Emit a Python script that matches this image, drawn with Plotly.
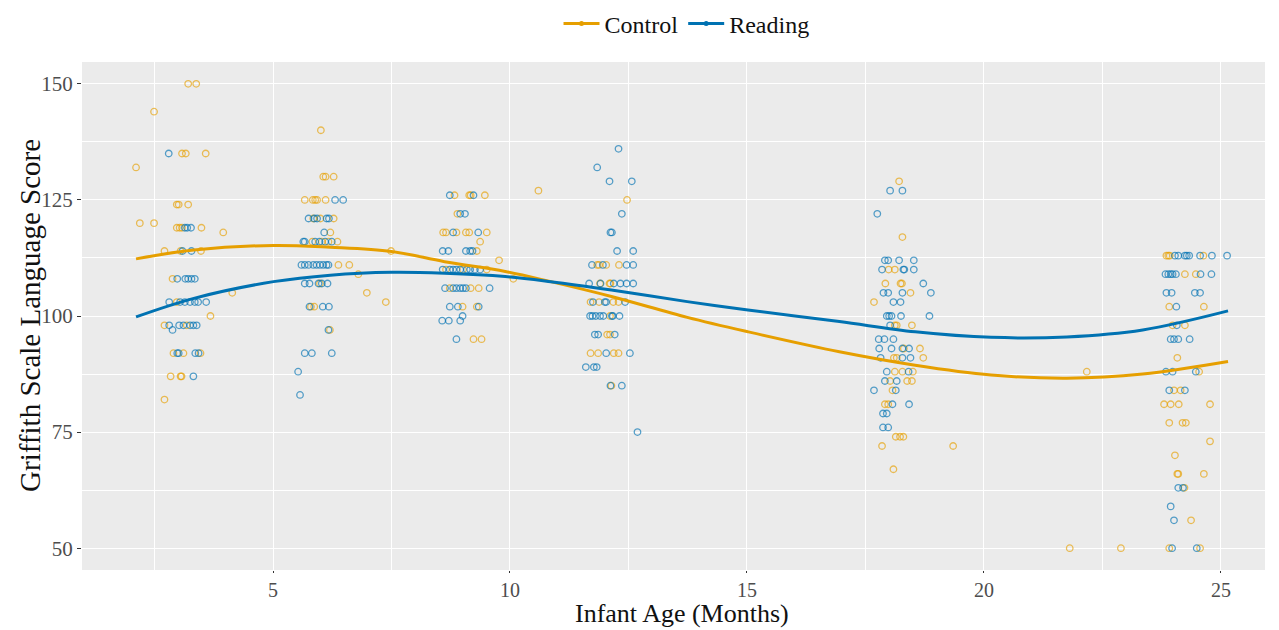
import plotly.graph_objects as go

# ---------------- data ----------------
control_age_3 = [2.11, 2.49, 3.21, 3.38, 3.08, 3.16, 3.58, 2.97, 3.01, 3.21, 2.19, 2.49, 2.97, 3.03, 3.08, 3.49, 3.95,
                 2.71, 3.05, 3.48, 2.88, 4.14, 2.97, 3.68, 2.71, 3.18, 2.90, 3.11, 3.47, 2.84, 3.05, 3.07, 2.71]
control_score_3 = [132, 144, 150, 150, 135, 135, 135, 124, 124, 124, 120, 120, 119, 119, 119, 119, 118,
                   114, 114, 114, 108, 105, 103, 100, 98, 98, 92, 92, 92, 87, 87, 87, 82]
reading_age_3 = [2.80, 3.14, 3.19, 3.27, 3.09, 3.28, 2.98, 3.15, 3.21, 3.28, 3.35, 2.81, 3.04, 3.14, 3.25, 3.35,
                 3.42, 3.59, 2.81, 3.02, 3.11, 3.25, 3.32, 3.39, 2.88, 2.98, 3.01, 3.36, 3.43, 3.32]
reading_score_3 = [135, 119, 119, 119, 114, 114, 108, 108, 108, 108, 108, 103, 103, 103, 103, 103,
                   103, 103, 98, 98, 98, 98, 98, 98, 97, 92, 92, 92, 92, 87]

control_age_6 = [6.01, 6.06, 6.11, 6.28, 5.67, 5.84, 5.89, 5.93, 6.11, 5.85, 6.00, 6.28, 6.21, 5.83, 6.03, 6.17,
                 6.36, 6.38, 6.61, 6.80, 5.99, 6.98, 7.38, 7.49, 5.80, 5.87, 6.20]
control_score_6 = [140, 130, 130, 130, 125, 125, 125, 125, 125, 121, 121, 121, 118, 116, 116, 116,
                   116, 111, 111, 109, 107, 105, 103, 114, 102, 102, 97]
reading_age_6 = [6.31, 6.48, 5.75, 5.87, 5.93, 6.13, 6.18, 6.08, 5.64, 5.67, 5.89, 5.98, 6.10, 6.24, 5.60, 5.67,
                 5.75, 5.85, 5.92, 5.99, 6.06, 6.13, 6.17, 5.67, 5.77, 5.96, 6.03, 6.15, 5.77, 6.05, 6.18, 6.17,
                 5.67, 5.82, 6.24, 5.53, 5.57]
reading_score_6 = [125, 125, 121, 121, 121, 121, 121, 118, 116, 116, 116, 116, 116, 116, 111, 111,
                   111, 111, 111, 111, 111, 111, 111, 107, 107, 107, 107, 107, 102, 102, 102, 97,
                   92, 92, 92, 88, 83]

control_age_9 = [10.60, 8.83, 9.14, 9.17, 9.47, 8.89, 8.59, 8.65, 8.87, 9.07, 9.14, 9.51, 9.37, 9.30, 9.77,
                 8.65, 9.01, 9.51, 10.07, 8.73, 9.17, 9.34, 9.00, 9.30, 9.23, 9.40]
control_score_9 = [127, 126, 126, 126, 126, 122, 118, 118, 118, 118, 118, 118, 116, 114, 112,
                   110, 110, 110, 108, 106, 106, 106, 102, 102, 95, 95]
reading_age_9 = [8.73, 9.23, 8.95, 9.05, 8.80, 9.33, 8.58, 8.70, 9.07, 9.16, 9.21, 8.58, 8.73, 8.80, 8.87,
                 8.95, 9.09, 9.16, 9.26, 9.37, 8.63, 8.80, 8.87, 8.95, 9.01, 9.07, 9.57, 8.73, 8.90, 9.34,
                 9.00, 8.57, 8.71, 8.95, 8.87]
reading_score_9 = [126, 126, 122, 122, 118, 118, 114, 114, 114, 114, 114, 110, 110, 110, 110,
                   110, 110, 110, 110, 110, 106, 106, 106, 106, 106, 106, 106, 102, 102, 102,
                   100, 99, 99, 99, 95]

control_age_12 = [12.47, 11.84, 11.88, 12.03, 12.30, 11.90, 12.10, 12.12, 11.70, 11.88, 12.18, 12.29, 12.11,
                  12.05, 12.11, 11.70, 11.86, 12.19, 12.29, 12.14]
control_score_12 = [125, 111, 111, 111, 111, 107, 107, 107, 103, 103, 103, 103, 100,
                    96, 96, 92, 92, 92, 92, 85]
reading_age_12 = [12.29, 11.84, 12.10, 12.57, 12.36, 12.12, 12.15, 12.26, 12.60, 11.73, 11.96, 12.46, 12.60,
                  11.67, 11.91, 12.19, 12.33, 12.46, 12.60, 11.75, 12.00, 12.03, 12.43, 11.69, 11.74, 11.81,
                  11.90, 11.97, 12.15, 12.17, 12.31, 11.79, 11.86, 12.21, 12.03, 12.53, 11.60, 11.77, 11.83,
                  12.12, 12.36, 12.69]
reading_score_12 = [136, 132, 129, 129, 122, 118, 118, 114, 114, 111, 111, 111, 111,
                    107, 107, 107, 107, 107, 107, 103, 103, 103, 103, 100, 100, 100,
                    100, 100, 100, 100, 100, 96, 96, 96, 92, 92, 89, 89, 89,
                    85, 85, 75]

control_age_18 = [18.21, 18.28, 17.99, 18.12, 17.92, 18.24, 18.27, 18.45, 17.68, 18.12, 18.16, 18.48, 18.31,
                  18.65, 18.10, 18.16, 18.72, 18.12, 18.28, 18.50, 18.02, 18.38, 18.48, 18.07, 17.91, 17.98,
                  18.14, 18.23, 18.30, 17.85, 19.35, 18.09]
control_score_18 = [129, 117, 110, 110, 107, 107, 107, 105, 103, 98, 98, 98, 93,
                    93, 91, 91, 91, 88, 88, 88, 86, 86, 86, 84, 81, 81,
                    74, 74, 74, 72, 72, 67]
reading_age_18 = [18.02, 18.28, 17.75, 17.91, 17.98, 18.21, 18.52, 17.85, 18.30, 18.32, 18.52, 18.72, 17.88,
                  17.98, 18.28, 18.88, 18.09, 18.24, 17.95, 18.00, 18.05, 18.25, 18.85, 18.02, 17.78, 17.90,
                  18.09, 17.79, 18.05, 18.28, 18.42, 17.82, 18.28, 18.45, 17.95, 18.41, 17.91, 18.16, 17.68,
                  18.14, 18.07, 18.42, 17.87, 17.95, 17.87, 17.98]
reading_score_18 = [127, 127, 122, 112, 112, 112, 112, 110, 110, 110, 110, 107, 105,
                    105, 105, 105, 103, 103, 100, 100, 100, 100, 100, 98, 95, 95,
                    95, 93, 93, 93, 93, 91, 91, 91, 88, 88, 86, 86, 84,
                    84, 81, 81, 79, 79, 76, 76]

control_age_24 = [23.85, 23.89, 23.92, 24.63, 24.24, 24.47, 23.91, 24.64, 23.98, 24.24, 24.08, 24.54, 24.01,
                  24.15, 23.80, 23.94, 24.11, 24.77, 23.91, 24.19, 24.26, 24.77, 24.03, 24.08, 24.10, 24.64,
                  24.23, 24.37, 23.91, 24.56, 22.17, 21.81, 22.89]
control_score_24 = [113, 113, 113, 113, 109, 109, 102, 102, 98, 98, 91, 88, 84,
                    84, 81, 81, 81, 81, 77, 77, 77, 73, 70, 66, 66, 66,
                    63, 56, 50, 50, 88, 50, 50]
reading_age_24 = [24.03, 24.10, 24.24, 24.28, 24.33, 24.56, 24.81, 25.13, 23.83, 23.89, 23.94, 23.98, 24.05,
                  24.57, 24.80, 23.85, 23.96, 24.45, 24.56, 24.06, 24.07, 23.94, 24.01, 24.10, 24.34, 23.84,
                  23.98, 24.47, 23.91, 24.24, 24.10, 24.20, 23.94, 24.01, 23.97, 24.49]
reading_score_24 = [113, 113, 113, 113, 113, 113, 113, 113, 109, 109, 109, 109, 109,
                    109, 109, 105, 105, 105, 105, 102, 98, 95, 95, 95, 95, 88,
                    88, 88, 84, 84, 63, 63, 59, 56, 50, 50]

# smoothed curves
curve_age = [2.11, 3.33, 5.01, 6.21, 7.50, 8.62, 9.90, 10.86, 12.14, 13.74, 15.02, 16.95, 18.55, 20.15, 21.75, 23.35, 25.15]
control_curve = [112.3, 114.2, 115.2, 114.8, 113.9, 111.7, 109.6, 107.4, 104.2, 99.7, 96.6, 92.3, 89.4, 87.3, 86.6, 87.5, 90.2]
reading_curve = [99.8, 103.8, 107.4, 108.8, 109.4, 109.2, 108.5, 107.4, 105.6, 103.1, 101.3, 98.8, 96.6, 95.4, 95.5, 97.0, 101.1]

x_ticks = [5, 10, 15, 20, 25]
y_ticks = [50, 75, 100, 125, 150]

control_age = control_age_3 + control_age_6 + control_age_9 + control_age_12 + control_age_18 + control_age_24
control_score = control_score_3 + control_score_6 + control_score_9 + control_score_12 + control_score_18 + control_score_24
reading_age = reading_age_3 + reading_age_6 + reading_age_9 + reading_age_12 + reading_age_18 + reading_age_24
reading_score = reading_score_3 + reading_score_6 + reading_score_9 + reading_score_12 + reading_score_18 + reading_score_24

# ---------------- figure ----------------
ORANGE = "#E69F00"
BLUE = "#0072B2"
FONT = "Liberation Serif"

fig = go.Figure()

for age, score, col in [(control_age, control_score, ORANGE), (reading_age, reading_score, BLUE)]:
    fig.add_trace(go.Scatter(
        x=age, y=score, mode="markers", showlegend=False, hoverinfo="skip",
        marker=dict(symbol="circle-open", size=6.5, color=col, opacity=0.65, line=dict(width=1.3, color=col)),
    ))

for curve, col in [(control_curve, ORANGE), (reading_curve, BLUE)]:
    fig.add_trace(go.Scatter(
        x=curve_age, y=curve, mode="lines", showlegend=False, hoverinfo="skip",
        line=dict(color=col, width=3, shape="spline", smoothing=1.0),
    ))

for name, col in [("Control", ORANGE), ("Reading", BLUE)]:
    fig.add_trace(go.Scatter(
        x=[None], y=[None], mode="lines+markers", name=name,
        line=dict(color=col, width=3), marker=dict(color=col, size=5),
    ))

fig.update_layout(
    width=1271, height=622,
    paper_bgcolor="white", plot_bgcolor="#EBEBEB",
    margin=dict(l=74, r=14, t=54, b=60, autoexpand=False),
    font=dict(family=FONT, color="#222222"),
    legend=dict(orientation="h", x=0.511, xanchor="center", y=1.075, yanchor="middle",
                font=dict(family=FONT, size=24, color="#111111"), itemwidth=36,
                bgcolor="rgba(0,0,0,0)"),
    xaxis=dict(
        range=[0.97, 25.93], tickvals=x_ticks, ticks="outside", ticklen=2, tickcolor="#333333",
        tickfont=dict(family=FONT, size=20, color="#4D4D4D"), automargin=False,
        showgrid=True, gridcolor="white", gridwidth=1.2, zeroline=False, showline=False,
        minor=dict(dtick=2.5, tick0=0, showgrid=True, gridcolor="white", gridwidth=0.5),
    ),
    yaxis=dict(
        range=[45.3, 154.7], tickvals=y_ticks, ticks="outside", ticklen=4, tickcolor="#333333",
        tickfont=dict(family=FONT, size=21, color="#4D4D4D"), automargin=False,
        showgrid=True, gridcolor="white", gridwidth=1.2, zeroline=False, showline=False,
        minor=dict(dtick=12.5, tick0=0, showgrid=True, gridcolor="white", gridwidth=0.5),
    ),
    annotations=[
        dict(text="Griffith Scale Language Score", textangle=-90,
             xref="paper", yref="paper", x=-0.044, y=0.502, xanchor="center", yanchor="middle",
             showarrow=False, font=dict(family=FONT, size=29, color="#111111")),
        dict(text="Infant Age (Months)",
             xref="paper", yref="paper", x=0.507, y=-0.0866, xanchor="center", yanchor="middle",
             showarrow=False, font=dict(family=FONT, size=26, color="#111111")),
    ],
)

fig.write_html("out.html")
